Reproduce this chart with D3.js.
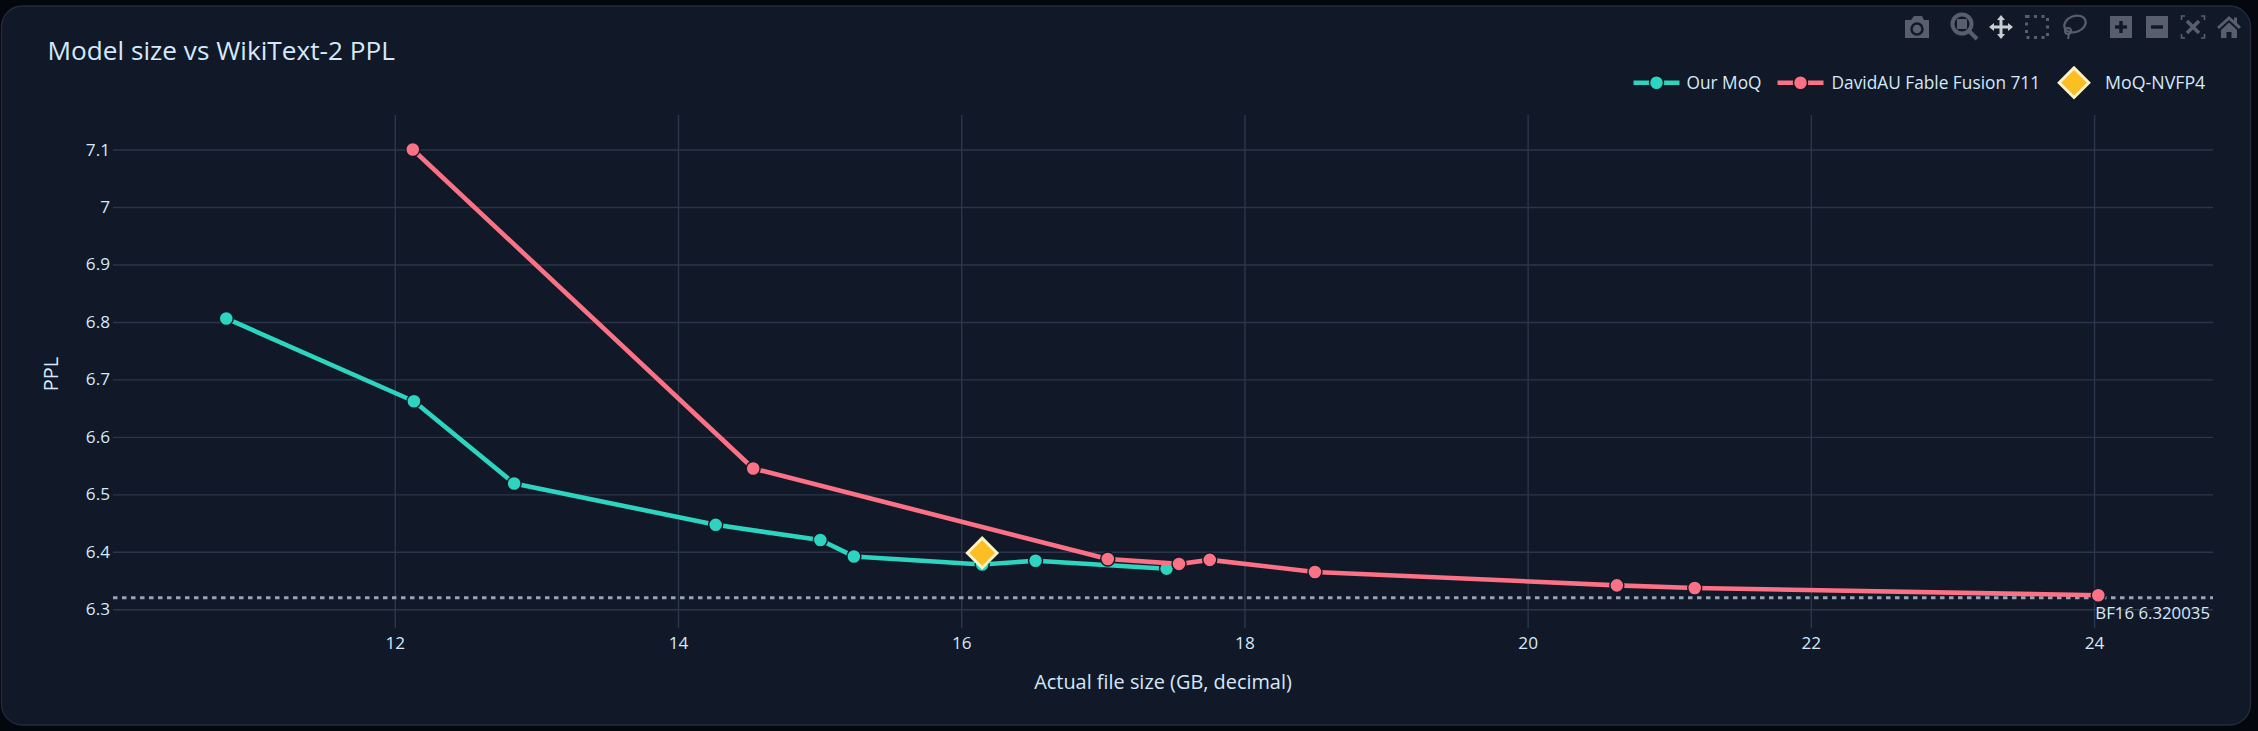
<!DOCTYPE html>
<html>
<head>
<meta charset="utf-8">
<script src="https://cdn.jsdelivr.net/npm/d3@7"></script>
<style>
  html, body { margin: 0; padding: 0; background: #05070f; overflow: hidden; }
  text { font-family: "Open Sans", sans-serif; fill: #d4e9fb; }
</style>
</head>
<body>
<svg id="chart" width="2258" height="731"></svg>
<script>
const WIDTH = 2258;
const HEIGHT = 731;
const PANEL_COLOR = '#111827';
const GRID_COLOR = '#2a364b';
const TEAL = '#2dd4bf';
const PINK = '#fb7185';
const AMBER = '#fbbf24';
const ICON_COLOR = '#585e6d';

const moqSizes = [10.81, 12.135, 12.843, 14.266, 15.005, 15.242, 16.148, 16.525, 17.45];
const moqPpl = [6.806, 6.662, 6.519, 6.447, 6.4205, 6.392, 6.378, 6.3845, 6.3707];

const fableSizes = [12.127, 14.531, 17.035, 17.538, 17.755, 18.498, 20.63, 21.18, 24.03];
const fablePpl = [7.1, 6.545, 6.3875, 6.379, 6.386, 6.365, 6.3417, 6.337, 6.3245];

const nvfpSizes = [16.148];
const nvfpPpl = [6.398];

const bf16Ppl = 6.320035;

const xTicks = [12, 14, 16, 18, 20, 22, 24];
const yTicks = [6.3, 6.4, 6.5, 6.6, 6.7, 6.8, 6.9, 7, 7.1];

const plot = { left: 113, right: 2213, top: 115, bottom: 628 };

const x = d3.scaleLinear().domain([10.01, 24.84]).range([plot.left, plot.right]);
const y = d3.scaleLinear().domain([6.2675, 7.16]).range([plot.bottom, plot.top]);

const svg = d3.select('#chart');

svg.append('rect')
  .attr('x', 1.5)
  .attr('y', 6)
  .attr('width', 2249)
  .attr('height', 719)
  .attr('rx', 21)
  .attr('fill', PANEL_COLOR)
  .attr('stroke', '#232d3f')
  .attr('stroke-width', 1.3);

// axes, the tick lines double as the grid
const xAxis = svg.append('g')
  .attr('transform', `translate(0,${plot.bottom})`)
  .call(d3.axisBottom(x).tickValues(xTicks).tickFormat(d3.format('d'))
    .tickSize(-(plot.bottom - plot.top)).tickPadding(9));

const yAxis = svg.append('g')
  .attr('transform', `translate(${plot.left},0)`)
  .call(d3.axisLeft(y).tickValues(yTicks).tickFormat(d3.format('~g'))
    .tickSize(-(plot.right - plot.left)).tickPadding(3));

[xAxis, yAxis].forEach(axis => {
  axis.select('.domain').remove();
  axis.attr('font-family', null);
  axis.selectAll('line').attr('stroke', GRID_COLOR).attr('stroke-width', 1.44);
  axis.selectAll('text').attr('font-size', 17.2).attr('fill', null);
});

// BF16 reference line
svg.append('line')
  .attr('x1', plot.left)
  .attr('x2', plot.right)
  .attr('y1', y(bf16Ppl))
  .attr('y2', y(bf16Ppl))
  .attr('stroke', '#94a3b8')
  .attr('stroke-width', 2.9)
  .attr('stroke-dasharray', '4.5,4.5');

svg.append('text')
  .attr('x', 2210)
  .attr('y', 619)
  .attr('text-anchor', 'end')
  .attr('font-size', 16.8)
  .text('BF16 6.320035');

const line = d3.line().x(d => x(d[0])).y(d => y(d[1]));

const drawSeries = (sizes, ppl, color) => {
  const points = d3.zip(sizes, ppl);
  svg.append('path')
    .attr('d', line(points))
    .attr('fill', 'none')
    .attr('stroke', color)
    .attr('stroke-width', 4.6)
    .attr('stroke-linejoin', 'round');
  svg.append('g')
    .selectAll('circle')
    .data(points)
    .join('circle')
    .attr('cx', d => x(d[0]))
    .attr('cy', d => y(d[1]))
    .attr('r', 7)
    .attr('fill', color)
    .attr('stroke', PANEL_COLOR)
    .attr('stroke-width', 1.44);
};

drawSeries(moqSizes, moqPpl, TEAL);
drawSeries(fableSizes, fablePpl, PINK);

const diamond = d3.symbol().type(d3.symbolSquare).size(440);

const drawDiamond = sel =>
  sel.attr('d', diamond())
    .attr('fill', AMBER)
    .attr('stroke', '#fef3c7')
    .attr('stroke-width', 2.9);

svg.append('g')
  .selectAll('path')
  .data(d3.zip(nvfpSizes, nvfpPpl))
  .join('path')
  .attr('transform', d => `translate(${x(d[0])},${y(d[1])}) rotate(45)`)
  .call(drawDiamond);

// titles
svg.append('text')
  .attr('x', 47.5)
  .attr('y', 60)
  .attr('font-size', 26.2)
  .text('Model size vs WikiText-2 PPL');

svg.append('text')
  .attr('x', 1163)
  .attr('y', 689)
  .attr('text-anchor', 'middle')
  .attr('font-size', 19.9)
  .text('Actual file size (GB, decimal)');

svg.append('text')
  .attr('transform', 'translate(58,374) rotate(-90)')
  .attr('text-anchor', 'middle')
  .attr('font-size', 19.9)
  .text('PPL');

// legend
const legendY = 82.7;

const legendLine = (cx, color, label, textX) => {
  svg.append('line')
    .attr('x1', cx - 23)
    .attr('x2', cx + 23)
    .attr('y1', legendY)
    .attr('y2', legendY)
    .attr('stroke', color)
    .attr('stroke-width', 4.6);
  svg.append('circle')
    .attr('cx', cx)
    .attr('cy', legendY)
    .attr('r', 7)
    .attr('fill', color)
    .attr('stroke', PANEL_COLOR)
    .attr('stroke-width', 1.44);
  svg.append('text')
    .attr('x', textX)
    .attr('y', legendY + 6)
    .attr('font-size', 17.3)
    .text(label);
};

legendLine(1656.5, TEAL, 'Our MoQ', 1686.5);
legendLine(1800.5, PINK, 'DavidAU Fable Fusion 711', 1831.5);

svg.append('path')
  .attr('transform', `translate(2074,${legendY}) rotate(45)`)
  .call(drawDiamond);

svg.append('text')
  .attr('x', 2105)
  .attr('y', legendY + 6)
  .attr('font-size', 17.8)
  .text('MoQ-NVFP4');

// modebar
const icon = cx => svg.append('g').attr('transform', `translate(${cx},27)`);

const camera = icon(1917);
camera.append('path')
  .attr('d', 'M-12,-7 H-6 L-3,-11 H5 L7,-7 H12 V11 H-12 Z')
  .attr('fill', ICON_COLOR);
camera.append('circle').attr('r', 5.5).attr('cy', 2).attr('fill', 'none')
  .attr('stroke', PANEL_COLOR).attr('stroke-width', 2.5);

const zoomIcon = icon(1965);
zoomIcon.append('circle').attr('cx', -3).attr('cy', -3).attr('r', 9.5)
  .attr('fill', 'none').attr('stroke', ICON_COLOR).attr('stroke-width', 4);
zoomIcon.append('rect').attr('x', -8).attr('y', -8).attr('width', 10).attr('height', 10)
  .attr('fill', ICON_COLOR);
zoomIcon.append('line').attr('x1', 4).attr('y1', 4).attr('x2', 12).attr('y2', 12)
  .attr('stroke', ICON_COLOR).attr('stroke-width', 4);

icon(2001).append('path')
  .attr('d', 'M0,-12 L4,-7 H1.5 V-1.5 H7 V-4 L12,0 L7,4 V1.5 H1.5 V7 H4 L0,12 L-4,7 H-1.5 V1.5 H-7 V4 L-12,0 L-7,-4 V-1.5 H-1.5 V-7 H-4 Z')
  .attr('fill', '#c9cdd4');

icon(2037).append('rect')
  .attr('x', -10.5).attr('y', -10.5).attr('width', 21).attr('height', 21)
  .attr('fill', 'none').attr('stroke', ICON_COLOR).attr('stroke-width', 3)
  .attr('stroke-dasharray', '3,4.5');

const lasso = icon(2074);
lasso.append('ellipse').attr('cx', 1).attr('cy', -3).attr('rx', 11).attr('ry', 8)
  .attr('transform', 'rotate(-20 1 -3)')
  .attr('fill', PANEL_COLOR).attr('stroke', ICON_COLOR).attr('stroke-width', 2.2);
lasso.append('circle').attr('cx', -6).attr('cy', 4).attr('r', 3)
  .attr('fill', 'none').attr('stroke', ICON_COLOR).attr('stroke-width', 2);
lasso.append('line').attr('x1', -5).attr('y1', 7).attr('x2', -6).attr('y2', 12)
  .attr('stroke', ICON_COLOR).attr('stroke-width', 2);

const squareIcon = (cx, bars) => {
  const g = icon(cx);
  g.append('rect').attr('x', -11).attr('y', -11).attr('width', 22).attr('height', 22)
    .attr('fill', ICON_COLOR);
  bars.forEach(([w, h]) => {
    g.append('rect').attr('x', -w / 2).attr('y', -h / 2).attr('width', w).attr('height', h)
      .attr('fill', PANEL_COLOR);
  });
};
squareIcon(2121, [[12, 3.4], [3.4, 12]]);
squareIcon(2157, [[12, 3.4]]);

const autoscale = icon(2193);
autoscale.append('path')
  .attr('d', 'M-8,-11 H-11.5 V-7 M8,-11 H11.5 V-7 M-8,11 H-11.5 V7 M8,11 H11.5 V7')
  .attr('fill', 'none').attr('stroke', ICON_COLOR).attr('stroke-width', 1.6);
autoscale.append('path')
  .attr('d', 'M-6,-6 L6,6 M6,-6 L-6,6')
  .attr('fill', 'none').attr('stroke', ICON_COLOR).attr('stroke-width', 3.6);

icon(2229).append('path')
  .attr('d', 'M0,-11 L5,-6.5 V-9.5 H8 V-4 L12,0 L10,2 L0,-7 L-10,2 L-12,0 Z M-8,3 L0,-4.5 L8,3 V11 H2.5 V5 H-2.5 V11 H-8 Z')
  .attr('fill', ICON_COLOR);
</script>
</body>
</html>
